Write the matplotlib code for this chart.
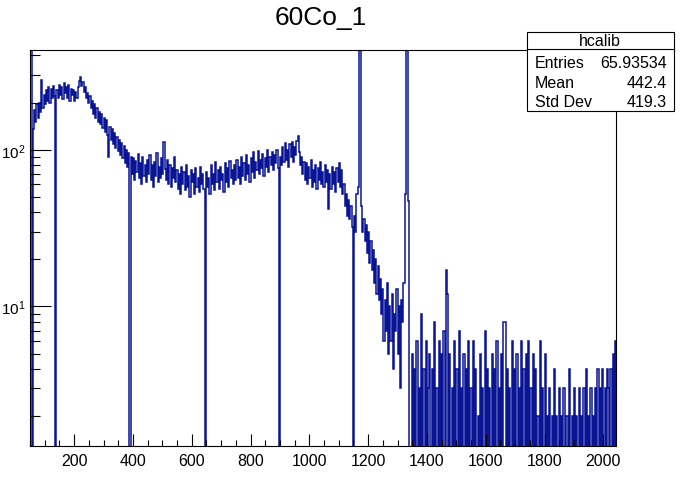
import matplotlib
matplotlib.use("Agg")
import matplotlib.pyplot as plt
from matplotlib.patches import Rectangle
from matplotlib.ticker import MultipleLocator, LogLocator, LogFormatterMathtext, NullFormatter
import numpy as np

# histogram hcalib, 4-unit bins starting at 48
bin_lo = 48
bin_width = 4

# 48 - 448, one row = 100 units
counts_a = [
    3000, 3000, 0, 135, 180, 150, 195, 160, 200, 175, 280, 185, 225, 195, 240, 205, 250, 200, 245, 215, 255, 220, 0, 240, 215,
    260, 225, 250, 210, 265, 230, 250, 215, 260, 205, 245, 225, 240, 205, 235, 215, 250, 275, 292, 255, 270, 235, 250, 215, 230,
    200, 220, 185, 205, 170, 195, 160, 185, 150, 175, 145, 170, 138, 160, 130, 155, 125, 90, 140, 115, 135, 108, 128, 102, 120,
    98, 115, 92, 110, 88, 105, 82, 100, 78, 95, 0, 90, 70, 88, 64, 85, 72, 94, 66, 82, 60, 90, 68, 80, 62,
]
# 448 - 1148
counts_b = [
    86, 70, 92, 64, 80, 58, 84, 68, 95, 62, 78, 66, 88, 70, 112, 75, 64, 86, 60, 80, 58, 76, 66, 90, 62,
    74, 56, 70, 52, 78, 60, 72, 55, 80, 58, 68, 50, 74, 62, 70, 52, 76, 58, 66, 54, 78, 60, 70, 56, 0,
    72, 58, 66, 52, 80, 60, 70, 55, 84, 62, 74, 56, 78, 64, 70, 54, 82, 62, 76, 58, 85, 66, 74, 60, 80,
    64, 86, 66, 78, 60, 90, 68, 82, 64, 92, 70, 80, 62, 88, 72, 96, 66, 84, 74, 98, 70, 86, 76, 94, 68,
    88, 78, 100, 72, 90, 80, 96, 74, 92, 82, 100, 76, 0, 90, 80, 104, 84, 110, 86, 100, 78, 108, 90, 112, 84,
    104, 92, 114, 122, 96, 80, 90, 70, 84, 64, 82, 60, 78, 66, 86, 58, 74, 62, 80, 56, 76, 64, 84, 60, 72,
    58, 80, 62, 74, 42, 70, 56, 78, 60, 72, 54, 76, 62, 82, 58, 74, 52, 60, 44, 52, 38, 48, 36, 44, 32,
]
# 1148 - 1348, the two 60Co lines
counts_c = [
    0, 38, 30, 52, 58, 3000, 3000, 44, 30, 36, 26, 33, 22, 30, 19, 26, 17, 23, 14, 20, 12, 18, 11, 15, 9,
    13, 6, 11, 7, 14, 5, 10, 6, 12, 4, 9, 7, 13, 5, 10, 3, 11, 8, 14, 52, 3000, 3000, 47, 0, 0,
]
# 1348 - 2048
counts_d = [
    5, 0, 4, 0, 6, 0, 3, 0, 9, 0, 4, 0, 6, 0, 3, 5, 0, 4, 0, 8, 0, 3, 0, 6, 0,
    5, 0, 7, 0, 17, 12, 0, 5, 0, 3, 0, 6, 0, 4, 0, 7, 0, 3, 0, 5, 0, 4, 0, 6, 0,
    3, 0, 6, 0, 4, 0, 2, 0, 5, 0, 3, 0, 7, 0, 4, 0, 3, 0, 5, 0, 4, 0, 6, 0, 3,
    0, 5, 0, 8, 8, 0, 4, 0, 3, 0, 6, 0, 4, 0, 5, 0, 3, 0, 6, 0, 4, 0, 5, 0, 6,
    0, 3, 0, 5, 0, 4, 0, 2, 0, 6, 0, 3, 0, 5, 0, 2, 0, 3, 0, 2, 0, 4, 0, 2, 0,
    3, 0, 2, 0, 3, 0, 2, 2, 0, 4, 0, 2, 0, 3, 0, 2, 0, 3, 0, 2, 0, 3, 0, 4, 0,
    2, 0, 3, 0, 2, 0, 3, 0, 4, 0, 3, 0, 4, 0, 3, 0, 4, 3, 0, 4, 0, 5, 0, 6, 0,
]

title = "60Co_1"
stat_name = "hcalib"
stat_rows = [("Entries", "65.93534"), ("Mean", "442.4"), ("Std Dev", "419.3")]

counts = np.array(counts_a + counts_b + counts_c + counts_d, dtype=float)
edges = bin_lo + bin_width * np.arange(len(counts) + 1)
# empty bins drop below the log axis like in ROOT
shown = np.where(counts > 0, counts, 1e-3)

plt.rcParams['font.family'] = ['Liberation Sans', 'DejaVu Sans']
plt.rcParams['mathtext.default'] = 'regular'

fig = plt.figure(figsize=(6.9, 4.85), dpi=100)
ax = fig.add_axes([30 / 690, 38.3 / 485, 586 / 690, 396 / 485])

ax.stairs(shown, edges, baseline=None, color='#0a1596', lw=1.1)

ax.set_yscale('log')
ax.set_xlim(50, 2043)
ax.set_ylim(1.29, 435)

ax.xaxis.set_major_locator(MultipleLocator(200))
ax.xaxis.set_minor_locator(MultipleLocator(50))
ax.yaxis.set_major_locator(LogLocator(base=10))
ax.yaxis.set_minor_locator(LogLocator(base=10, subs=np.arange(2, 10)))
ax.yaxis.set_major_formatter(LogFormatterMathtext())
ax.yaxis.set_minor_formatter(NullFormatter())

ax.tick_params(axis='x', which='major', direction='in', length=9, width=0.8,
               labelsize=11.5, pad=5, top=False)
ax.tick_params(axis='x', which='minor', direction='in', length=4.5, width=0.8, top=False)
ax.tick_params(axis='y', which='major', direction='in', length=15, width=0.8,
               labelsize=11, pad=3, right=False)
ax.tick_params(axis='y', which='minor', direction='in', length=7.5, width=0.8, right=False)
for s in ax.spines.values():
    s.set_linewidth(0.8)

fig.text(321 / 690, 1 - 18 / 485, title, ha='center', va='center', fontsize=19)

# stats box
x0, x1 = 526.5 / 690, 674 / 690
y0, y1 = 1 - 112.3 / 485, 1 - 32.5 / 485
fig.patches.append(Rectangle((x0, y0), x1 - x0, y1 - y0, transform=fig.transFigure,
                             facecolor='white', edgecolor='black', lw=0.8, zorder=5))
fig.lines.append(plt.Line2D([x0, x1], [1 - 50 / 485] * 2, transform=fig.transFigure,
                            color='black', lw=0.8, zorder=6))
fig.text((x0 + x1) / 2, 1 - 41.5 / 485, stat_name, ha='center', va='center',
         fontsize=11.5, zorder=7)
for i, (name, val) in enumerate(stat_rows):
    yy = 1 - (64 + i * 19.3) / 485
    fig.text(535 / 690, yy, name, ha='left', va='center', fontsize=11.5, zorder=7)
    fig.text(667 / 690, yy, val, ha='right', va='center', fontsize=11.5, zorder=7)

fig.savefig("out.png", dpi=100)
